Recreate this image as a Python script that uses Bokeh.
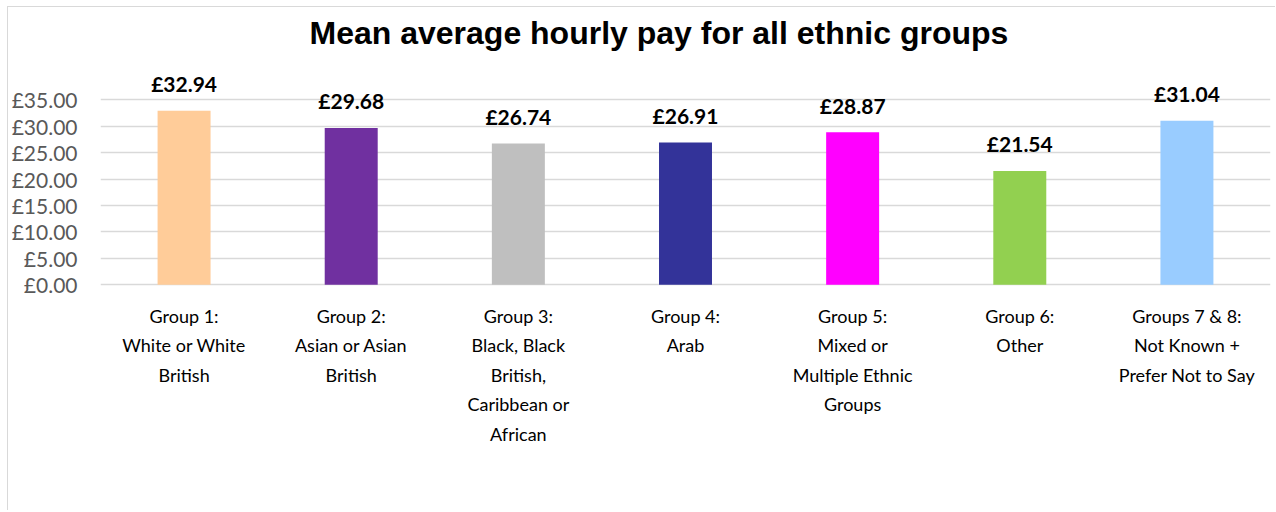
from bokeh.plotting import figure
from bokeh.models import ColumnDataSource, FixedTicker, PrintfTickFormatter, FactorRange, Range1d, Title
from bokeh.core.properties import value
from bokeh.embed import file_html
from bokeh.resources import INLINE

categories = [
    "Group 1:\nWhite or White\nBritish",
    "Group 2:\nAsian or Asian\nBritish",
    "Group 3:\nBlack, Black\nBritish,\nCaribbean or\nAfrican",
    "Group 4:\nArab",
    "Group 5:\nMixed or\nMultiple Ethnic\nGroups",
    "Group 6:\nOther",
    "Groups 7 & 8:\nNot Known +\nPrefer Not to Say",
]
pay = [32.94, 29.68, 26.74, 26.91, 28.87, 21.54, 31.04]
colors = ["#FFCC99", "#7030A0", "#BFBFBF", "#333399", "#FF00FF", "#92D050", "#99CCFF"]
y_ticks = [0, 5, 10, 15, 20, 25, 30, 35]

source = ColumnDataSource(dict(
    cat=categories,
    pay=pay,
    zero=[0] * len(pay),
    color=colors,
    label=[f"£{v:.2f}" for v in pay],
))

p = figure(
    x_range=FactorRange(*categories, range_padding=0),
    y_range=Range1d(-42.6, 40),
    width=1268, height=504,
    output_backend="svg", toolbar_location=None,
    title="Mean average hourly pay for all ethnic groups",
    min_border_left=87, min_border_right=6, min_border_top=66, min_border_bottom=2,
)
p.styles = {"border-left": "1px solid #d9d9d9", "border-top": "1px solid #d9d9d9",
            "box-sizing": "border-box", "margin-left": "7px", "margin-top": "6px"}
p.outline_line_color = None

p.title.text_font = "Liberation Sans"
p.title.text_font_size = "32px"
p.title.text_font_style = "bold"
p.title.text_color = "#000000"
p.title.align = "left"
p.title.offset = 209
p.title.standoff = 6

# blank spacer between title and plot area
p.add_layout(Title(text=" ", text_font_size="16.5px", standoff=0), "above")

p.vbar(x="cat", top="pay", width=0.317, color="color", source=source, line_color=None)
p.text(x="cat", y="pay", text="label", source=source,
       text_align="center", text_baseline="alphabetic", y_offset=-27,
       text_font=value("Lato"), text_font_size="21px", text_font_style="bold",
       text_color="#000000")
p.text(x="cat", y="zero", text="cat", source=source,
       text_align="center", text_baseline="top", y_offset=20,
       text_font=value("Lato"), text_font_size="18px",
       text_line_height=1.34, text_color="#000000")

p.xgrid.grid_line_color = None
p.xaxis.visible = False
p.ygrid.grid_line_color = "#d9d9d9"
p.ygrid.grid_line_width = 1.5
p.ygrid.ticker = FixedTicker(ticks=y_ticks)
p.yaxis.ticker = FixedTicker(ticks=y_ticks)
p.yaxis.formatter = PrintfTickFormatter(format="£%.2f")
p.yaxis.axis_line_color = None
p.yaxis.major_tick_line_color = None
p.yaxis.minor_tick_line_color = None
p.yaxis.major_label_text_font = "Lato"
p.yaxis.major_label_text_font_size = "21px"
p.yaxis.major_label_text_color = "#595959"
p.yaxis.major_label_standoff = 17

open("out.html", "w").write(file_html(p, INLINE))
